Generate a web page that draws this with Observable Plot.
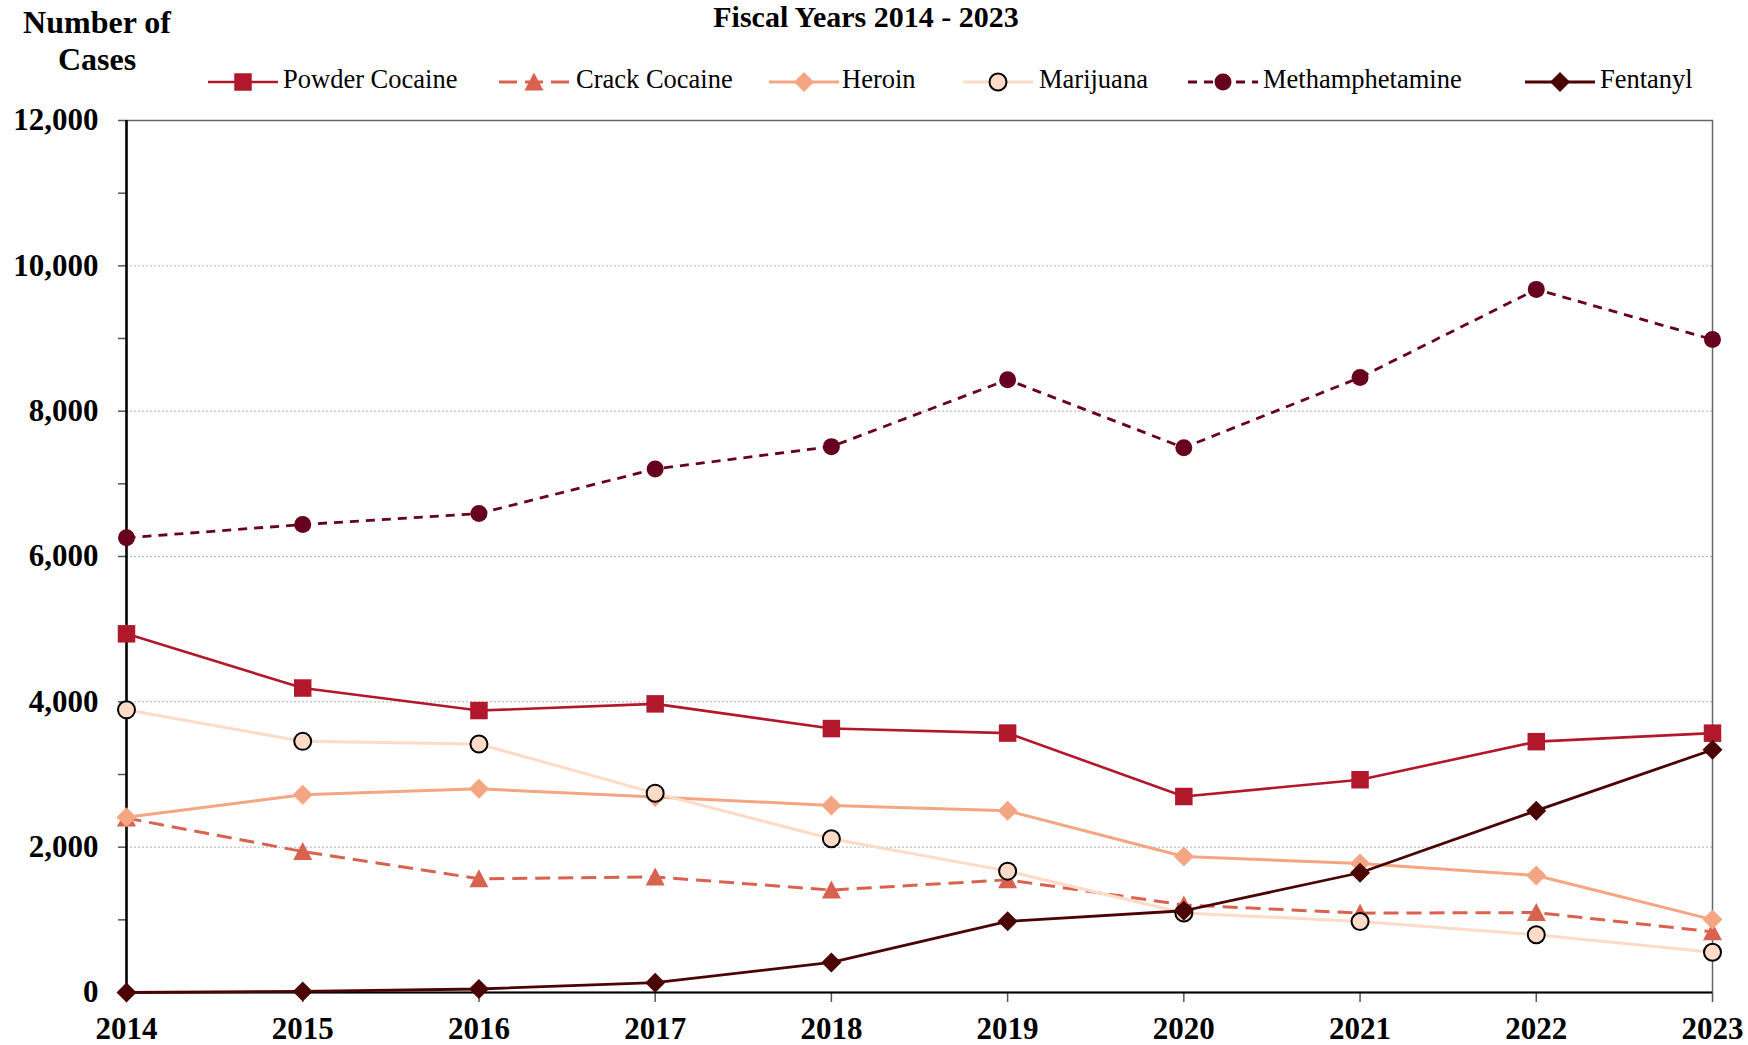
<!DOCTYPE html>
<html>
<head>
<meta charset="utf-8">
<script src="https://cdn.jsdelivr.net/npm/d3@7"></script>
<script src="https://cdn.jsdelivr.net/npm/@observablehq/plot@0.6"></script>
<style>
  html, body { margin: 0; padding: 0; background: #fff; overflow: hidden; }
  body { width: 1748px; height: 1045px; font-family: "Liberation Serif", "Times New Roman", serif; color: #000; }
  #header { position: relative; width: 1748px; height: 100px; }
  #title { position: absolute; left: 866px; top: 0px; transform: translateX(-50%); white-space: nowrap;
           font-weight: bold; font-size: 30px; line-height: 34px; }
  #ylabel { position: absolute; left: 0; top: 4px; width: 194px; text-align: center;
            font-weight: bold; font-size: 32px; line-height: 37px; }
  .lg-swatch { position: absolute; top: 70px; }
  .lg-text { position: absolute; top: 66px; font-size: 26.5px; line-height: 26px; white-space: nowrap; }
  #chart svg { display: block; }
</style>
</head>
<body>
<div id="header">
  <div id="title">Fiscal Years 2014 - 2023</div>
  <div id="ylabel">Number of<br>Cases</div>
</div>
<div id="chart"></div>
<script>
// ---------- data ----------
const years = [2014, 2015, 2016, 2017, 2018, 2019, 2020, 2021, 2022, 2023];
const seriesNames = ["Powder Cocaine", "Crack Cocaine", "Heroin", "Marijuana", "Methamphetamine", "Fentanyl"];
const powderCocaine   = [4936, 4190, 3880, 3972, 3632, 3570, 2697, 2928, 3452, 3569];
const crackCocaine    = [2400, 1940, 1565, 1590, 1410, 1550, 1205, 1092, 1100, 835];
const heroin          = [2413, 2722, 2803, 2690, 2575, 2500, 1872, 1775, 1610, 1003];
const marijuana       = [3890, 3456, 3420, 2743, 2115, 1670, 1095, 978, 795, 553];
const methamphetamine = [6257, 6440, 6591, 7205, 7512, 8433, 7497, 8463, 9676, 8986];
const fentanyl        = [0, 15, 48, 135, 414, 980, 1125, 1648, 2502, 3340];
const yTickValues  = [0, 1000, 2000, 3000, 4000, 5000, 6000, 7000, 8000, 9000, 10000, 11000, 12000];
const yLabelValues = [0, 2000, 4000, 6000, 8000, 10000, 12000];
const yGridValues  = [2000, 4000, 6000, 8000, 10000];

const seriesValues = [powderCocaine, crackCocaine, heroin, marijuana, methamphetamine, fentanyl];
const rows = seriesNames.flatMap((name, i) => years.map((yr, j) => ({series: name, year: yr, value: seriesValues[i][j]})));

// ---------- styles ----------
const sym = {
  square:   {draw(c) { const s = 8.75; c.rect(-s, -s, 2 * s, 2 * s); }},
  triangle: {draw(c) { c.moveTo(0, -9.5); c.lineTo(9.5, 8.5); c.lineTo(-9.5, 8.5); c.closePath(); }},
  diamond:  {draw(c) { c.moveTo(0, -10); c.lineTo(10, 0); c.lineTo(0, 10); c.lineTo(-10, 0); c.closePath(); }},
  circle:   {draw(c) { c.moveTo(8.5, 0); c.arc(0, 0, 8.5, 0, 2 * Math.PI); c.closePath(); }}
};
const styles = {
  "Powder Cocaine":  {color: "#B2182B", width: 2.6, dash: null,   legendDash: null,   symbol: sym.square,   fill: "#B2182B", stroke: "none"},
  "Crack Cocaine":   {color: "#D9624F", width: 3,   dash: "15,8", legendDash: "18,8", symbol: sym.triangle, fill: "#D9624F", stroke: "none"},
  "Heroin":          {color: "#F4A582", width: 3,   dash: null,   legendDash: null,   symbol: sym.diamond,  fill: "#F4A582", stroke: "none"},
  "Marijuana":       {color: "#FDDBC7", width: 3,   dash: null,   legendDash: null,   symbol: sym.circle,   fill: "#FDDBC7", stroke: "#000"},
  "Methamphetamine": {color: "#67001F", width: 2.8, dash: "9,7",  legendDash: "9,7",  symbol: sym.circle,   fill: "#67001F", stroke: "none"},
  "Fentanyl":        {color: "#4A0404", width: 2.8, dash: null,   legendDash: null,   symbol: sym.diamond,  fill: "#4A0404", stroke: "none"}
};
const drawOrder = ["Methamphetamine", "Powder Cocaine", "Crack Cocaine", "Heroin", "Marijuana", "Fentanyl"];
const legendLayout = {
  "Powder Cocaine":  [208, 283],
  "Crack Cocaine":   [499, 576],
  "Heroin":          [769, 842],
  "Marijuana":       [963, 1039],
  "Methamphetamine": [1188, 1263],
  "Fentanyl":        [1525, 1600]
};

// ---------- legend ----------
const header = document.getElementById("header");
for (const name of seriesNames) {
  const st = styles[name];
  const [lx, tx] = legendLayout[name];
  const svg = d3.create("svg").attr("class", "lg-swatch").attr("width", 70).attr("height", 24)
    .style("left", lx + "px");
  svg.append("line").attr("x1", 0).attr("x2", 70).attr("y1", 12).attr("y2", 12)
    .attr("stroke", st.color).attr("stroke-width", st.width)
    .attr("stroke-dasharray", st.legendDash);
  svg.append("path").attr("d", d3.symbol(st.symbol)()).attr("transform", "translate(35,12)")
    .attr("fill", st.fill).attr("stroke", st.stroke).attr("stroke-width", st.stroke === "none" ? null : 2);
  header.appendChild(svg.node());
  const t = document.createElement("div");
  t.className = "lg-text";
  t.style.left = tx + "px";
  t.textContent = name;
  header.appendChild(t);
}

// ---------- chart ----------
const marks = [
  Plot.gridY(yGridValues, {stroke: "#b0b0b0", strokeOpacity: 1, strokeWidth: 1, strokeDasharray: "2,2"}),
  Plot.frame({stroke: "#666", strokeWidth: 1.5}),
  Plot.axisY(yTickValues, {tickSize: 8, tickPadding: 20, stroke: "#555", strokeWidth: 1.5,
    tickFormat: d => yLabelValues.includes(d) ? d3.format(",")(d) : "", fill: "#000",
    fontSize: 31, fontWeight: "bold", label: null}),
  Plot.axisX(years, {tickSize: 10, tickPadding: 14, stroke: "#555", strokeWidth: 1.5,
    tickFormat: d => String(d), fill: "#000", fontSize: 31, fontWeight: "bold", label: null}),
  Plot.ruleX([years[0]], {stroke: "#000", strokeWidth: 2.5}),
  Plot.ruleY([0], {stroke: "#000", strokeWidth: 2})
];
for (const name of drawOrder) {
  const st = styles[name];
  const d = rows.filter(r => r.series === name);
  marks.push(Plot.line(d, {x: "year", y: "value", stroke: st.color, strokeWidth: st.width,
    strokeDasharray: st.dash, strokeLinejoin: "round", strokeLinecap: "butt"}));
}
for (const name of drawOrder) {
  const st = styles[name];
  const d = rows.filter(r => r.series === name);
  marks.push(Plot.dot(d, {x: "year", y: "value", symbol: st.symbol, r: 8, fill: st.fill,
    stroke: st.stroke, strokeWidth: st.stroke === "none" ? 0 : 2}));
}

const chart = Plot.plot({
  width: 1748,
  height: 945,
  marginTop: 20,
  marginBottom: 53,
  marginLeft: 126,
  marginRight: 36,
  style: {fontFamily: "'Liberation Serif', 'Times New Roman', serif", fontSize: "31px", fontWeight: "bold", color: "#000", background: "#fff", overflow: "visible"},
  x: {domain: [2014, 2023], axis: null},
  y: {domain: [0, 12000], axis: null},
  marks
});
document.getElementById("chart").appendChild(chart);
</script>
</body>
</html>
